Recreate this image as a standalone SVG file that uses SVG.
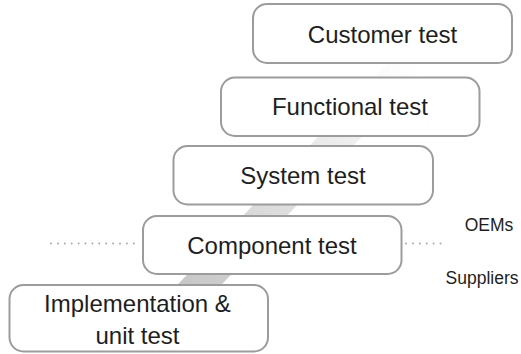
<svg xmlns="http://www.w3.org/2000/svg" width="521" height="354" viewBox="0 0 521 354">
  <style>
    .box { fill: #ffffff; stroke: #9c9c9c; stroke-width: 2; }
    .label { font-family: "Liberation Sans", Arial, sans-serif; font-size: 24px; fill: #1e1e1e; text-anchor: middle; }
    .side { font-family: "Liberation Sans", Arial, sans-serif; font-size: 17.5px; fill: #1e1e1e; text-anchor: middle; }
    .dots { stroke: #a8a8a8; stroke-width: 2; stroke-linecap: round; stroke-dasharray: 0 6.9; fill: none; }
  </style>
  <defs>
    <linearGradient id="bandFade" gradientUnits="userSpaceOnUse" x1="175" y1="300" x2="455" y2="4">
      <stop offset="0" stop-color="#c4c4c4"/>
      <stop offset="0.6" stop-color="#f0f0f0"/>
      <stop offset="0.82" stop-color="#ffffff"/>
    </linearGradient>
  </defs>

  <!-- rising band linking the test levels -->
  <g id="connectors">
    <polygon points="163,300 207,300 488,4 444,4" fill="url(#bandFade)"/>
  </g>

  <!-- OEM / supplier boundary -->
  <g id="divider">
    <line class="dots" x1="51" y1="243.5" x2="137" y2="243.5"/>
    <line class="dots" x1="406" y1="243.5" x2="444" y2="243.5"/>
    <text class="side" x="489" y="230.5">OEMs</text>
    <text class="side" x="482" y="284">Suppliers</text>
  </g>

  <g id="customer-test">
    <rect class="box" x="253" y="4" width="259" height="59" rx="14"/>
    <text class="label" x="382.5" y="42.5">Customer test</text>
  </g>

  <g id="functional-test">
    <rect class="box" x="221" y="77.5" width="258.5" height="58.5" rx="14"/>
    <text class="label" x="350" y="115">Functional test</text>
  </g>

  <g id="system-test">
    <rect class="box" x="173.5" y="146" width="259.5" height="58.5" rx="14"/>
    <text class="label" x="303" y="184">System test</text>
  </g>

  <g id="component-test">
    <rect class="box" x="143" y="216" width="258.5" height="58" rx="14"/>
    <text class="label" x="272" y="253.5">Component test</text>
  </g>

  <g id="implementation-unit-test">
    <rect class="box" x="9.5" y="285" width="258.5" height="66.5" rx="14"/>
    <text class="label" x="137.5" y="312">Implementation &amp;</text>
    <text class="label" x="137.5" y="344">unit test</text>
  </g>
</svg>
